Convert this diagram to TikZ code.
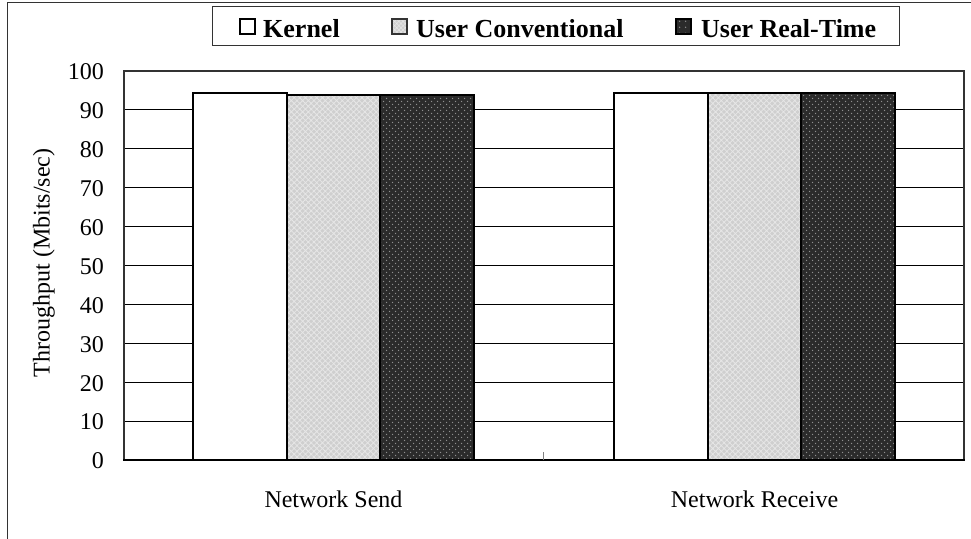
\documentclass[tikz,border=0pt]{standalone}
\usepackage{fontspec}
\setmainfont{Liberation Serif}
\usetikzlibrary{patterns.meta}

\definecolor{convfill}{HTML}{CFCFCF}
\definecolor{convhatch}{HTML}{E6E6E6}
\definecolor{rtfill}{HTML}{2B2B2B}
\definecolor{rtdot}{HTML}{8F8F8F}
\definecolor{framegray}{HTML}{333333}

\tikzset{
  bar/.style={draw=black, line width=2bp},
  kernelbar/.style={bar, fill=white},
  convbar/.style={bar, preaction={fill=convfill},
    pattern={Hatch[angle=45, distance=4bp, line width=0.8bp]}, pattern color=convhatch},
  rtbar/.style={bar, preaction={fill=rtfill},
    preaction={pattern={Dots[radius=0.8bp, distance=6bp]}, pattern color=rtdot},
    pattern={Dots[radius=0.8bp, distance=6bp, xshift=3bp, yshift=3bp]}, pattern color=rtdot},
  gridline/.style={draw=black, line width=0.9bp},
  ticklab/.style={anchor=east, inner sep=0pt, font=\fontsize{24bp}{28bp}\selectfont},
  catlab/.style={anchor=base, inner sep=0pt, font=\fontsize{24bp}{28bp}\selectfont},
  legtext/.style={anchor=base west, inner sep=0pt, font=\bfseries\fontsize{26bp}{30bp}\selectfont},
  legmark/.style={line width=1.3bp},
  declare function={yv(\v)=460-3.89*\v;}
}

\begin{document}
\begin{tikzpicture}[x=1bp, y=-1bp]
  \useasboundingbox (0,0) rectangle (971,539);
  \fill[white] (0,0) rectangle (971,539);

  % outer chart frame (runs off the right and bottom)
  \draw[framegray, line width=1bp] (7,539) -- (7,3) -- (971,3);

  % legend
  \draw[framegray, line width=1bp] (212,7) rectangle (899,46);
  \path[legmark, draw=black, fill=white] (240,19) rectangle (255,34);
  \node[legtext] (lk) at (263,37.5) {Kernel};
  \path[legmark, draw=framegray, preaction={fill=convfill},
    pattern={Hatch[angle=45, distance=3bp, line width=0.6bp]}, pattern color=convhatch]
    (392,19) rectangle (407,34);
  \node[legtext] (lc) at (416,37.5) {User Conventional};
  \path[legmark, draw=black, preaction={fill=rtfill},
    pattern={Dots[radius=0.8bp, distance=6bp, xshift=2bp, yshift=2bp]}, pattern color=rtdot]
    (676,19) rectangle (691,34);
  \node[legtext] (lr) at (701,37.5) {User Real-Time};

  % gridlines and value labels
  \foreach \v in {10,20,...,90}
    \draw[gridline] (124,{yv(\v)}) -- (964,{yv(\v)});
  \foreach \v in {0,10,...,100}
    \node[ticklab] (t\v) at (104,{yv(\v)+1}) {\v};

  % bars: Network Send
  \path[kernelbar] (193,460) rectangle (287,{yv(94.3)});
  \path[convbar]   (287,460) rectangle (380,{yv(93.8)});
  \path[rtbar]     (380,460) rectangle (474,{yv(93.8)});
  % bars: Network Receive
  \path[kernelbar] (614,460) rectangle (708,{yv(94.3)});
  \path[convbar]   (708,460) rectangle (801,{yv(94.3)});
  \path[rtbar]     (801,460) rectangle (895,{yv(94.3)});

  % plot frame and category divider tick
  \draw[framegray, line width=1.6bp] (124,460) -- (124,71) -- (964,71) -- (964,460);
  \draw[black, line width=2bp] (123,460) -- (965,460);
  \draw[gray, line width=1bp] (543,452) -- (543,460);

  % category labels
  \node[catlab] (c1) at (333.5,507) {Network Send};
  \node[catlab] (c2) at (754.5,507) {Network Receive};

  % axis title
  \node[rotate=90, inner sep=0pt, font=\fontsize{24bp}{28bp}\selectfont] (ytitle) at (44,263) {Throughput (Mbits/sec)};
\end{tikzpicture}
\end{document}
